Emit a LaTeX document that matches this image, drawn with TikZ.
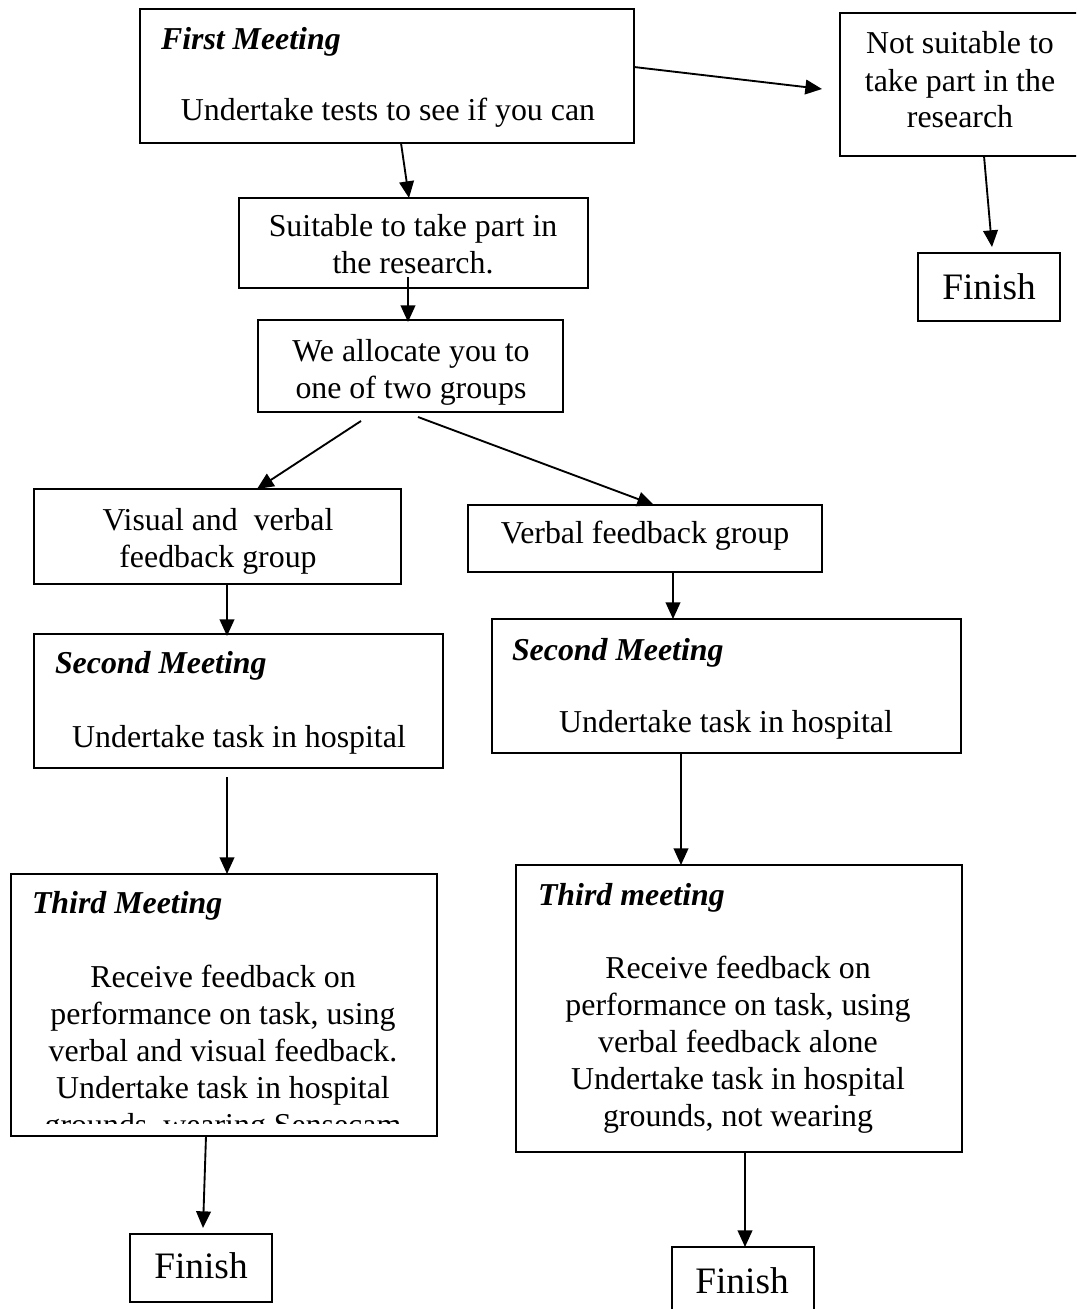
\documentclass[tikz,border=0pt]{standalone}
\usepackage{fontspec}
\setmainfont{Liberation Serif}
\usetikzlibrary{arrows.meta,calc}
\newcommand\bodyfont{\fontsize{23.9pt}{27.75pt}\selectfont}
\newcommand\bigfont{\fontsize{28pt}{32pt}\selectfont}
\begin{document}
\begin{tikzpicture}[x=0.75pt,y=-0.75pt,
  box/.style={draw, line width=1.4pt, inner sep=0pt, outer sep=0pt, anchor=north west},
  txt/.style={inner sep=0pt, outer sep=0pt, font=\bodyfont, align=center, anchor=base},
  head/.style={inner sep=0pt, outer sep=0pt, font=\bodyfont\bfseries\itshape, anchor=base west},
  fin/.style={inner sep=0pt, outer sep=0pt, font=\bigfont, anchor=base},
  arr/.style={line width=1.4pt, -{Triangle[length=12.5pt,width=11pt]}}]
\useasboundingbox (0,0) rectangle (1076,1309);
\clip (0,0) rectangle (1076,1309);

% boxes
\node[box, minimum width=494*0.75pt, minimum height=134*0.75pt] (first) at (140,9) {};
\node[box, minimum width=242*0.75pt, minimum height=143*0.75pt] (notsuit) at (840,13) {};
\node[box, minimum width=142*0.75pt, minimum height=68*0.75pt] (finR) at (918,253) {};
\node[box, minimum width=349*0.75pt, minimum height=90*0.75pt] (suit) at (239,198) {};
\node[box, minimum width=305*0.75pt, minimum height=92*0.75pt] (alloc) at (258,320) {};
\node[box, minimum width=367*0.75pt, minimum height=95*0.75pt] (visual) at (34,489) {};
\node[box, minimum width=354*0.75pt, minimum height=67*0.75pt] (verbal) at (468,505) {};
\node[box, minimum width=409*0.75pt, minimum height=134*0.75pt] (secL) at (34,634) {};
\node[box, minimum width=469*0.75pt, minimum height=134*0.75pt] (secR) at (492,619) {};
\node[box, minimum width=426*0.75pt, minimum height=262*0.75pt] (thirdL) at (11,874) {};
\node[box, minimum width=446*0.75pt, minimum height=287*0.75pt] (thirdR) at (516,865) {};
\node[box, minimum width=142*0.75pt, minimum height=68*0.75pt] (finL) at (130,1234) {};
\node[box, minimum width=142*0.75pt, minimum height=68*0.75pt] (finR2) at (672,1247) {};

% texts (anchor base = baseline of the last line)
\node[head] (firstH) at (161,50) {First Meeting};
\node[txt] (firstB) at (388,121) {Undertake tests to see if you can};
\node[txt] (notsuitT) at (960,128) {Not suitable to\\take part in the\\research};
\node[fin] (finRT) at (989,299) {Finish};
\node[txt] (suitT) at (413,273) {Suitable to take part in\\the research.};
\node[txt] (allocT) at (411,398) {We allocate you to\\one of two groups};
\node[txt] (visualT) at (218,567) {Visual and\ \ verbal\\feedback group};
\node[txt] (verbalT) at (645,543) {Verbal feedback group};
\node[head] (secLH) at (55,673) {Second Meeting};
\node[txt] (secLB) at (239,747) {Undertake task in hospital};
\node[head] (secRH) at (512,660) {Second Meeting};
\node[txt] (secRB) at (726,732) {Undertake task in hospital};
\node[head] (thirdLH) at (32,913) {Third Meeting};
\begin{scope}
\clip (11,874) rectangle (437,1123);
\node[txt] (thirdLB) at (223,1135) {Receive feedback on\\performance on task, using\\verbal and visual feedback.\\Undertake task in hospital\\grounds, wearing Sensecam};
\end{scope}
\node[head] (thirdRH) at (538,905) {Third meeting};
\node[txt] (thirdRB) at (738,1126) {Receive feedback on\\performance on task, using\\verbal feedback alone\\Undertake task in hospital\\grounds, not wearing};
\node[fin] (finLT) at (201,1278) {Finish};
\node[fin] (finR2T) at (742,1293) {Finish};

% connectors
\draw[arr] ($(first.north east)+(0,58)$) -- ($(notsuit.north west)+(-18,76)$);
\draw[arr] ($(first.south west)+(261,0)$) -- ($(suit.north west)+(170,0)$);
\draw[arr] ($(notsuit.south west)+(144,0)$) -- ($(finR.north west)+(74,-6)$);
\draw[arr] ($(suit.south west)+(169,-11)$) -- ($(alloc.north west)+(150,2)$);
\draw[arr] ($(alloc.south west)+(103,9)$) -- ($(visual.north west)+(223,0)$);
\draw[arr] ($(alloc.south west)+(160,5)$) -- ($(verbal.north west)+(186,0)$);
\draw[arr] ($(visual.south west)+(193,0)$) -- ($(secL.north west)+(193,2)$);
\draw[arr] ($(verbal.south west)+(205,0)$) -- ($(secR.north west)+(181,0)$);
\draw[arr] ($(secL.south west)+(193,9)$) -- ($(thirdL.north west)+(216,0)$);
\draw[arr] ($(secR.south west)+(189,0)$) -- ($(thirdR.north west)+(165,0)$);
\draw[arr] ($(thirdL.south west)+(195,0)$) -- ($(finL.north west)+(73,-6)$);
\draw[arr] ($(thirdR.south west)+(229,0)$) -- ($(finR2.north west)+(73,0)$);
\end{tikzpicture}
\end{document}
